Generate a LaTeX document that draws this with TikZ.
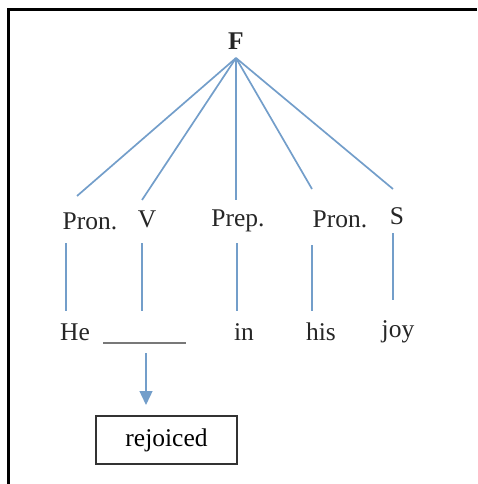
\documentclass[tikz,border=0pt]{standalone}
\usepackage{fontspec}
\setmainfont{Liberation Serif}
\usetikzlibrary{arrows.meta}
\definecolor{branch}{RGB}{115,158,202}
\definecolor{blankline}{RGB}{120,120,120}
\begin{document}
\begin{tikzpicture}[x=1pt,y=-1pt,
  word/.style={inner sep=0pt,font=\fontsize{25.5}{25.5}\selectfont,text=black!85},
  branchline/.style={draw=branch,line width=1.7pt},
  answerbox/.style={draw=black!80,line width=2pt,minimum width=141pt,minimum height=48pt,inner sep=0pt,font=\fontsize{25.5}{25.5}\selectfont}]
  \useasboundingbox (0,0) rectangle (477,484);
  % frame edges
  \draw[line width=3pt,black] (8,484) -- (8,10) -- (477,10);

  % root and its fan of branches
  \node[word,font=\fontsize{25.5}{25.5}\selectfont\bfseries] (F) at (236,41) {F};
  \coordinate (apex) at (236,58);
  \coordinate (e1) at (77,196);
  \coordinate (e2) at (142,200);
  \coordinate (e3) at (236,200);
  \coordinate (e4) at (312,189);
  \coordinate (e5) at (393,189);
  \foreach \e in {e1,e2,e3,e4,e5}
    \draw[branchline] (apex) -- (\e);

  % word classes
  \node[word] (c1) at (90,221) {Pron.};
  \node[word] (c2) at (147,219) {V};
  \node[word] (c3) at (238,221) {Prep.};
  \node[word] (c4) at (340,219) {Pron.};
  \node[word] (c5) at (397,216) {S};

  % words of the sentence
  \node[word] (w1) at (75,332) {He};
  \node[word] (w3) at (244,332) {in};
  \node[word] (w4) at (321,332) {his};
  \node[word] (w5) at (398,332) {joy};
  \coordinate (b1) at (103,343);
  \coordinate (b2) at (186,343);
  \draw[blankline,line width=2pt] (b1) -- (b2);

  % class-to-word links
  \coordinate (t1) at (66,243); \coordinate (u1) at (66,311);
  \coordinate (t2) at (142,243); \coordinate (u2) at (142,311);
  \coordinate (t3) at (237,243); \coordinate (u3) at (237,311);
  \coordinate (t4) at (312,245); \coordinate (u4) at (312,311);
  \coordinate (t5) at (393,233); \coordinate (u5) at (393,300);
  \foreach \i in {1,...,5}
    \draw[branchline] (t\i) -- (u\i);

  % the missing verb
  \node[answerbox] (ans) at (166.5,440) {rejoiced};
  \coordinate (a0) at (146,353);
  \coordinate (a1) at (146,405);
  \draw[branch,line width=1.4pt,-{Triangle[length=14pt,width=13pt]}] (a0) -- (a1);
\end{tikzpicture}
\end{document}
